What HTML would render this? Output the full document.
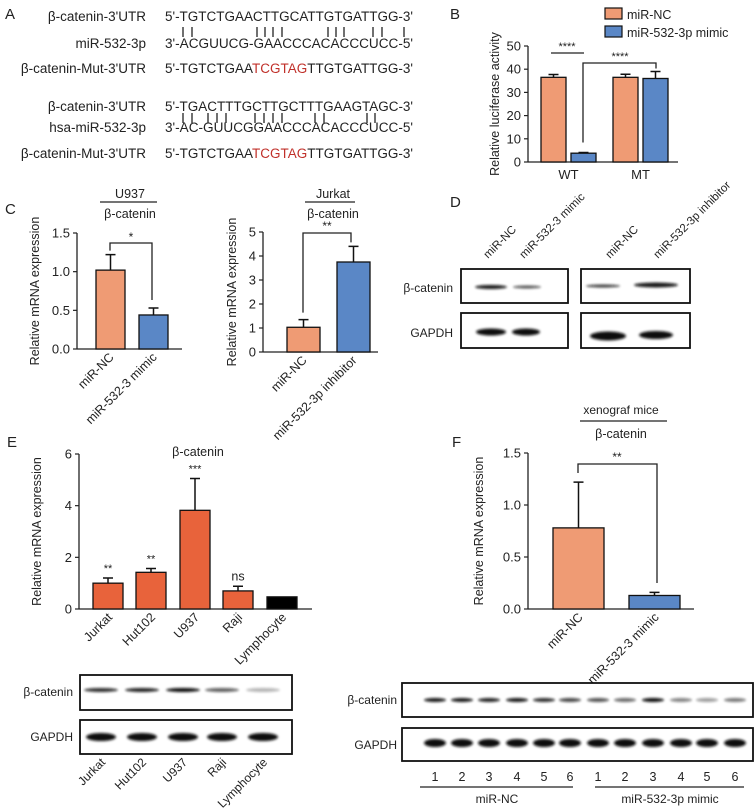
<!DOCTYPE html>
<html><head><meta charset="utf-8"><style>
html,body{margin:0;padding:0;background:#fff}
svg{display:block;font-family:"Liberation Sans",Arial,sans-serif}
</style></head><body>
<svg id="fig" width="756" height="810" viewBox="0 0 756 810" xmlns="http://www.w3.org/2000/svg">
<defs><filter id="blur" x="-20%" y="-100%" width="140%" height="300%"><feGaussianBlur stdDeviation="1.2"/></filter></defs>
<g font-size="13.5" fill="#222">
<text x="5" y="19" font-size="15">A</text>
<text x="146" y="21" text-anchor="end">β-catenin-3'UTR</text>
<text x="146" y="48" text-anchor="end">miR-532-3p</text>
<text x="146" y="73" text-anchor="end">β-catenin-Mut-3'UTR</text>
<text x="146" y="111" text-anchor="end">β-catenin-3'UTR</text>
<text x="146" y="132" text-anchor="end">hsa-miR-532-3p</text>
<text x="146" y="158" text-anchor="end">β-catenin-Mut-3'UTR</text>
<text x="165" y="21" textLength="248" lengthAdjust="spacingAndGlyphs">5'-TGTCTGAACTTGCATTGTGATTGG-3'</text>
<text x="165" y="48" textLength="248" lengthAdjust="spacingAndGlyphs">3'-ACGUUCG-GAACCCACACCCUCC-5'</text>
<text x="165" y="73" textLength="248" lengthAdjust="spacingAndGlyphs">5'-TGTCTGAA<tspan fill="#c0302a">TCGTAG</tspan>TTGTGATTGG-3'</text>
<text x="165" y="111" textLength="248" lengthAdjust="spacingAndGlyphs">5'-TGACTTTGCTTGCTTTGAAGTAGC-3'</text>
<text x="165" y="132" textLength="248" lengthAdjust="spacingAndGlyphs">3'-AC-GUUCGGAACCCACACCCUCC-5'</text>
<text x="165" y="158" textLength="248" lengthAdjust="spacingAndGlyphs">5'-TGTCTGAA<tspan fill="#c0302a">TCGTAG</tspan>TTGTGATTGG-3'</text>
<g id="pairs" stroke="#222" stroke-width="1.3"></g>
</g>
<g id="chartB"></g>
<g id="chartC1"></g>
<g id="chartC2"></g>
<g id="chartE"></g>
<g id="chartF"></g>
<g id="blots"></g>
</svg>
<script>
const NS="http://www.w3.org/2000/svg";
// ---- data ----
const bCategories=["WT","MT"];
const bSeriesNames=["miR-NC","miR-532-3p mimic"];
const bNC=[36.5,36.5], bNCerr=[1.2,1.3];
const bMimic=[3.8,36], bMimicErr=[0.3,3];
const bTicks=[0,10,20,30,40,50];
const c1Categories=["miR-NC","miR-532-3 mimic"];
const c1Values=[1.02,0.44], c1Err=[0.2,0.09];
const c1Ticks=["0.0","0.5","1.0","1.5"];
const c2Categories=["miR-NC","miR-532-3p inhibitor"];
const c2Values=[1.03,3.75], c2Err=[0.32,0.65];
const c2Ticks=[0,1,2,3,4,5];
const eCategories=["Jurkat","Hut102","U937","Raji","Lymphocyte"];
const eValues=[1.0,1.42,3.82,0.7,0.47], eErr=[0.2,0.15,1.23,0.18,0];
const eSig=["**","**","***","ns",""];
const eTicks=[0,2,4,6];
const fCategories=["miR-NC","miR-532-3 mimic"];
const fValues=[0.78,0.13], fErr=[0.44,0.03];
const fTicks=["0.0","0.5","1.0","1.5"];
const ORANGE="#EF9B74", BLUE="#5A87C6", RED="#E8633B";

function el(tag,attrs,parent,txt){const e=document.createElementNS(NS,tag);for(const k in attrs)e.setAttribute(k,attrs[k]);if(txt!==undefined)e.textContent=txt;parent.appendChild(e);return e;}
function lin(d0,d1,r0,r1){return v=>r0+(v-d0)*(r1-r0)/(d1-d0);}

// base-pair marks
const pg=document.getElementById('pairs');
const pairs1=[183,192,257,265,273,282,328,336,344,373,382,404];
const pairs2=[183,192,208,217,226,255,264,273,282,315,324,367,375];
pairs1.forEach(x=>{const l=el('line',{x1:x,x2:x,y1:27,y2:37},pg);});
pairs2.forEach(x=>{const l=el('line',{x1:x,x2:x,y1:113,y2:123},pg);});

function axes(g,x0,x1,y,ticks,maxV,yTop,ylabel,ylx,fs){
  const sy=lin(0,maxV,y,yTop);
  const ax=el('line',{x1:x0,x2:x0,y1:sy(maxV),y2:y,stroke:'#222','stroke-width':1.3},g);
  
  const bx=el('line',{x1:x0,x2:x1,y1:y,y2:y,stroke:'#222','stroke-width':1.3},g);
  
  ticks.forEach(t=>{const v=parseFloat(t);const yy=sy(v);
    el('line',{x1:x0-4,x2:x0,y1:yy,y2:yy,stroke:'#222','stroke-width':1.2},g);
    const tx=el('text',{x:x0-7,y:yy+4.5,'text-anchor':'end','font-size':fs||13,fill:'#222'},g,String(t));
    });
  const yl=el('text',{x:0,y:0,transform:`translate(${ylx},${(y+sy(maxV))/2}) rotate(-90)`,'text-anchor':'middle','font-size':12.5,fill:'#222'},g,ylabel);
  
  return sy;
}
function bar(g,x,w,v,err,sy,color,name){
  const r=el('rect',{x:x,y:sy(v),width:w,height:sy(0)-sy(v),fill:color,stroke:'#111','stroke-width':1.3},g);
  
  if(err>0){const cx=x+w/2;
    const e=el('path',{d:`M${cx},${sy(v)}V${sy(v+err)}M${cx-5},${sy(v+err)}H${cx+5}`,stroke:'#111','stroke-width':1.5,fill:'none'},g);
    }
}
function rotLabel(g,x,y,t,fs){const tx=el('text',{x:0,y:0,transform:`translate(${x},${y}) rotate(-45)`,'text-anchor':'end','font-size':fs||12.5,fill:'#222'},g,t);
  return tx;}
function txt(g,x,y,t,fs,anchor,name){const tx=el('text',{x:x,y:y,'text-anchor':anchor||'middle','font-size':fs||12.5,fill:'#222'},g,t);
  return tx;}
function path(g,d,name,sw){const p=el('path',{d:d,stroke:'#222','stroke-width':sw||1.3,fill:'none'},g);return p;}

// ---- Panel B ----
(function(){
  const g=document.getElementById('chartB');
  txt(g,450,19,'B',15,'start','panel-b-letter');
  const sy=axes(g,528,678,162,bTicks,50,46,'Relative luciferase activity',499,13);
  const groupX=[541,613], w=25, gap=5;
  bCategories.forEach((c,i)=>{
    bar(g,groupX[i],w,bNC[i],bNCerr[i],sy,ORANGE,'bar-nc-'+c.toLowerCase());
    bar(g,groupX[i]+w+gap,w,bMimic[i],bMimicErr[i],sy,BLUE,'bar-mimic-'+c.toLowerCase());
    txt(g,groupX[i]+w+gap/2,179,c,13,'middle','x-tick-label');
  });
  path(g,'M551,53H584','sig-line-1');
  txt(g,567,50,'****',11,'middle','sig-label-1');
  path(g,`M583,${sy(bMimic[0]+bMimicErr[0])-10}V63H656V${sy(bMimic[1]+bMimicErr[1])-3}`,'sig-bracket-2');
  txt(g,620,60,'****',11,'middle','sig-label-2');
  const l1=el('rect',{x:605,y:8,width:17,height:11,fill:ORANGE,stroke:'#111','stroke-width':1.2},g);
  
  txt(g,627,19,bSeriesNames[0],12.5,'start','legend-entry-nc');
  const l2=el('rect',{x:605,y:26,width:17,height:11,fill:BLUE,stroke:'#111','stroke-width':1.2},g);
  
  txt(g,627,37,bSeriesNames[1],12.5,'start','legend-entry-mimic');
})();

// ---- Panel C ----
(function(){
  const g=document.getElementById('chartC1');
  txt(g,5,214,'C',15,'start','panel-c-letter');
  txt(g,130,198,'U937',12.5,'middle','cell-line-title');
  path(g,'M100,202H157','title-underline');
  txt(g,130,218,'β-catenin',12.5,'middle','gene-title');
  const sy=axes(g,77,182,349,c1Ticks,1.5,233,'Relative mRNA expression',39,13);
  const xs=[96,139],w=29,cols=[ORANGE,BLUE];
  c1Categories.forEach((c,i)=>{bar(g,xs[i],w,c1Values[i],c1Err[i],sy,cols[i],'bar-'+i);rotLabel(g,xs[i]+w/2+4,358,c);});
  path(g,`M110,${sy(c1Values[0]+c1Err[0])-4}V243H152V${sy(c1Values[1]+c1Err[1])-8}`,'sig-bracket');
  txt(g,131,241,'*',12,'middle','sig-label');
})();
(function(){
  const g=document.getElementById('chartC2');
  txt(g,333,198,'Jurkat',12.5,'middle','cell-line-title');
  path(g,'M305,202H355','title-underline');
  txt(g,333,218,'β-catenin',12.5,'middle','gene-title');
  const sy=axes(g,263,378,352,c2Ticks,5,232,'Relative mRNA expression',236,13);
  const xs=[287,337],w=33,cols=[ORANGE,BLUE];
  c2Categories.forEach((c,i)=>{bar(g,xs[i],w,c2Values[i],c2Err[i],sy,cols[i],'bar-'+i);rotLabel(g,xs[i]+w/2+4,361,c);});
  path(g,`M303,${sy(c2Values[0]+c2Err[0])-7}V233H351V${sy(c2Values[1]+c2Err[1])-4}`,'sig-bracket');
  txt(g,327,230,'**',12,'middle','sig-label');
})();

// ---- Panel E ----
(function(){
  const g=document.getElementById('chartE');
  txt(g,7,447,'E',15,'start','panel-e-letter');
  txt(g,198,456,'β-catenin',12.5,'middle','gene-title');
  const sy=axes(g,79,312,609,eTicks,6,454,'Relative mRNA expression',41,13);
  const xs=[93,136,180,223,267],w=30;
  eCategories.forEach((c,i)=>{
    bar(g,xs[i],w,eValues[i],eErr[i],sy,i===4?'#000':RED,'bar-'+c.toLowerCase());
    if(eSig[i])txt(g,xs[i]+w/2,sy(eValues[i]+eErr[i])-6,eSig[i],eSig[i]==='ns'?12.5:11,'middle','sig-label');
    rotLabel(g,xs[i]+w/2+5,618,c);
  });
})();

// ---- Panel F ----
(function(){
  const g=document.getElementById('chartF');
  txt(g,452,447,'F',15,'start','panel-f-letter');
  txt(g,621,414,'xenograf mice',12,'middle','model-title');
  path(g,'M580,421H667','title-underline');
  txt(g,621,438,'β-catenin',12.5,'middle','gene-title');
  const sy=axes(g,528,694,609,fTicks,1.5,453,'Relative mRNA expression',483,13);
  const xs=[553,629],w=51,cols=[ORANGE,BLUE];
  fCategories.forEach((c,i)=>{bar(g,xs[i],w,fValues[i],fErr[i],sy,cols[i],'bar-'+i);rotLabel(g,xs[i]+w/2+5,618,c);});
  path(g,`M578,473V464H657V583`,'sig-bracket');
  txt(g,617,461,'**',12,'middle','sig-label');
})();

// ---- Western blots ----
(function(){
  const g=document.getElementById('blots');
  function box(x1,y1,x2,y2,name){const r=el('rect',{x:x1,y:y1,width:x2-x1,height:y2-y1,fill:'#fff',stroke:'#111','stroke-width':1.8},g);}
  function band(cx,cy,w,h,op,name){const e=el('ellipse',{cx:cx,cy:cy,rx:w/2,ry:h/2,fill:'#111',opacity:op,filter:'url(#blur)'},g);}
  // D
  txt(g,450,207,'D',15,'start','panel-d-letter');
  box(461,269,568,303,'blot-d-left-bcat');box(461,313,568,348,'blot-d-left-gapdh');
  box(581,269,690,303,'blot-d-right-bcat');box(581,313,690,348,'blot-d-right-gapdh');
  txt(g,453,292,'β-catenin',12,'end','row-label-bcat');txt(g,453,337,'GAPDH',12,'end','row-label-gapdh');
  [[488,'miR-NC'],[524,'miR-532-3 mimic'],[610,'miR-NC'],[658,'miR-532-3p inhibitor']].forEach(a=>{
    const t=el('text',{x:0,y:0,transform:`translate(${a[0]},259) rotate(-45)`,'font-size':11.5,fill:'#222'},g,a[1]);});
  band(491,287,32,4,0.95,'band');band(527,287,28,3,0.7,'band');
  band(603,286,34,3,0.8,'band');band(656,285,44,5,0.95,'band');
  band(491,332,30,7,1,'band');band(526,332,28,7,1,'band');
  band(608,336,36,9,1,'band');band(656,335,34,8,1,'band');
  // E blot
  box(80,675,292,710,'blot-e-bcat');box(80,720,292,754,'blot-e-gapdh');
  txt(g,73,696,'β-catenin',12,'end','row-label-bcat');txt(g,73,741,'GAPDH',12,'end','row-label-gapdh');
  const eLanes=[101,142,183,222,263], eB=[0.85,0.9,1,0.65,0.3];
  eLanes.forEach((x,i)=>{band(x,690,34,4,eB[i],'band');band(x,737,30,8,1,'band');rotLabel(g,x+5,763,eCategories[i],12);});
  // F blot
  box(402,683,753,717,'blot-f-bcat');box(402,728,753,761,'blot-f-gapdh');
  txt(g,397,704,'β-catenin',12,'end','row-label-bcat');txt(g,397,749,'GAPDH',12,'end','row-label-gapdh');
  const fLanes=[435,462,489,517,544,570,598,625,653,681,707,735];
  const fB=[0.95,0.95,0.9,0.95,0.85,0.75,0.7,0.6,1,0.5,0.4,0.55];
  fLanes.forEach((x,i)=>{band(x,700,22,4,fB[i],'band');band(x,743,22,8,1,'band');
    txt(g,x,781,String(i%6+1),12.5,'middle','lane-number');});
  path(g,'M420,787H573','group-line-nc');path(g,'M595,787H744','group-line-mimic');
  txt(g,497,803,'miR-NC',12,'middle','group-label-nc');txt(g,670,803,'miR-532-3p mimic',12,'middle','group-label-mimic');
})();
</script>
</body></html>
